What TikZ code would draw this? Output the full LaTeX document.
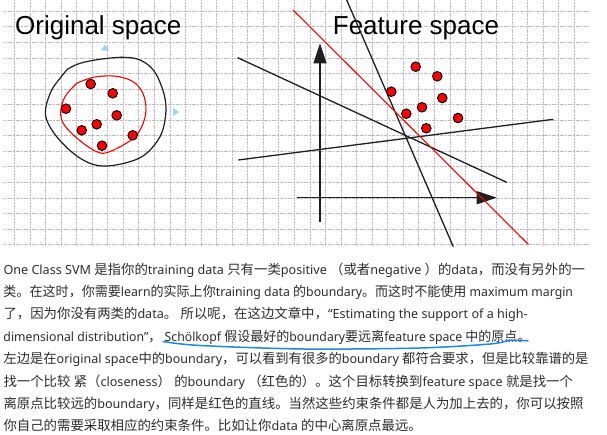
\documentclass[tikz,border=0pt]{standalone}
\usepackage{fontspec}
\setmainfont{Noto Sans}
\newfontfamily\latfam{Noto Sans}
\newfontfamily\cjkfam{Noto Sans CJK SC}
\newfontfamily\arialfont{Liberation Sans}
\newcommand\latfont{\latfam\fontsize{12.6}{16}\selectfont}
\newcommand\cjkfont{\cjkfam\fontsize{13.4}{16}\selectfont}
\usetikzlibrary{arrows.meta}
\newXeTeXintercharclass\cjkcls
\newcount\cjkcnt
\cjkcnt="3000 \loop \XeTeXcharclass\cjkcnt=\cjkcls \advance\cjkcnt by 1 \ifnum\cjkcnt<"3040 \repeat
\cjkcnt="4E00 \loop \XeTeXcharclass\cjkcnt=\cjkcls \advance\cjkcnt by 1 \ifnum\cjkcnt<"A000 \repeat
\cjkcnt="FF00 \loop \XeTeXcharclass\cjkcnt=\cjkcls \advance\cjkcnt by 1 \ifnum\cjkcnt<"FFF0 \repeat
\XeTeXinterchartoks 0 \cjkcls = {\cjkfont}
\XeTeXinterchartoks 4095 \cjkcls = {\cjkfont}
\XeTeXinterchartoks \cjkcls 0 = {\latfont}
\XeTeXinterchartoks \cjkcls 4095 = {\latfont}
\XeTeXinterchartokenstate=1
\definecolor{handleblue}{RGB}{165,208,242}
\definecolor{ulblue}{RGB}{30,136,229}
\definecolor{txtgray}{RGB}{45,45,45}
\begin{document}
\begin{tikzpicture}[x=1pt,y=-1pt,
  gridline/.style={black!25, line width=0.7pt, dash pattern=on 1.2pt off 0.4pt},
  bk/.style={black!88, line width=1.3pt},
  rd/.style={red, line width=1.1pt},
  dot/.style={circle, draw=black, fill=red, line width=0.9pt, minimum size=9.6pt, inner sep=0pt},
  title/.style={anchor=base west, inner sep=0pt, font=\arialfont\fontsize{26}{30}\selectfont},
  txtline/.style={anchor=base west, inner sep=0pt, text=txtgray, font=\latfont},
  squeeze/.style={xscale=#1, transform shape},
  arr/.style={-{Triangle[length=20pt,width=13pt]}}
]
\useasboundingbox (0,0) rectangle (607,434);
\fill[white] (0,0) rectangle (607,434);
% grid
\foreach \k in {0,...,15} \draw[gridline] (3,{11.2+15.56*\k}) -- (590,{11.2+15.56*\k});
\foreach \k in {0,...,36} \draw[gridline] ({14.3+15.556*\k},0) -- ({14.3+15.556*\k},246);
% titles
\node[title] (t1) at (15,34) {Original space};
\node[title] (t2) at (332.7,34) {Feature space};
% handles
\fill[handleblue] (101,50.5) -- (109,50.5) -- (105,44.5) -- cycle;
\fill[handleblue] (173,108) -- (173,116) -- (179,112) -- cycle;
% original space curves
\draw[bk, line width=1.2pt] plot[smooth, tension=0.6] coordinates {(67.3,69.3) (80,63.3) (100,59.3) (123.3,57.3) (140,60) (153.3,70) (161.7,86.7) (165.7,103.3) (165,120) (160,136.7) (146.7,153.3) (130,161.7) (106.7,166) (90,163.3) (73.3,153.3) (56.7,136.7) (46.7,120) (46,106.7) (51.7,90) (60,78.3) (67.3,69.3)};
\draw[rd] plot[smooth, tension=0.6] coordinates {(76.7,83.3) (93.3,77.3) (113.3,76) (130,80) (140,88.3) (145,100) (145.7,113.3) (141.7,126.7) (135,136.7) (123.3,145) (106.7,152.7) (96.7,151.7) (83.3,143.3) (71.7,133.3) (63.3,123.3) (60.7,111.7) (65,96.7) (76.7,83.3)};
\node[dot] (o1) at (90.7,84) {};
\node[dot] (o2) at (112.7,93.3) {};
\node[dot] (o3) at (66,108.7) {};
\node[dot] (o4) at (116.7,115.3) {};
\node[dot] (o5) at (96.7,124.3) {};
\node[dot] (o6) at (81.7,130.3) {};
\node[dot] (o7) at (132.7,135.3) {};
\node[dot] (o8) at (102,145.7) {};
% feature space
\coordinate (vs) at (320,221.7);
\coordinate (ve) at (320,43.3);
\coordinate (hs) at (296.7,197.7);
\coordinate (he) at (496.7,197.7);
\draw[bk, arr] (vs) -- (ve);
\draw[bk, arr] (hs) -- (he);
\draw[bk] (346.7,0) -- (453.3,246.7);
\draw[bk] (237.7,57.7) -- (506.7,182.3);
\draw[bk] (238.3,160) -- (553.3,119.3);
\draw[rd] (293,10) -- (528.3,244.3);
\node[dot] (f1) at (415.7,66.7) {};
\node[dot] (f2) at (437.3,76.3) {};
\node[dot] (f3) at (391.3,91.7) {};
\node[dot] (f4) at (442.3,98) {};
\node[dot] (f5) at (422,107.3) {};
\node[dot] (f6) at (406.3,113.7) {};
\node[dot] (f7) at (458,118) {};
\node[dot] (f8) at (426.3,128.3) {};
% text
\node[txtline] (l1) at (3.3,274) {One Class SVM 是指你的training data 只有一类positive （或者negative ）的data，而没有另外的一};
\node[txtline, squeeze=0.974] (l2) at (3.3,296.4) {类。在这时，你需要learn的实际上你training data 的boundary。而这时不能使用 maximum margin};
\node[txtline] (l3) at (3.3,318.8) {了，因为你没有两类的data。 所以呢，在这边文章中，“Estimating the support of a high-};
\node[txtline, squeeze=0.972] (l4) at (3.3,341.2) {dimensional distribution”， Schölkopf 假设最好的boundary要远离feature space 中的原点。};
\node[txtline, squeeze=0.993] (l5) at (3.3,363.6) {左边是在original space中的boundary，可以看到有很多的boundary 都符合要求，但是比较靠谱的是};
\node[txtline] (l6) at (3.3,386) {找一个比较 紧（closeness） 的boundary （红色的）。这个目标转换到feature space 就是找一个};
\node[txtline] (l7) at (3.3,408.4) {离原点比较远的boundary，同样是红色的直线。当然这些约束条件都是人为加上去的，你可以按照};
\node[txtline] (l8) at (3.3,430.8) {你自己的需要采取相应的约束条件。比如让你data 的中心离原点最远。};
% underline
\draw[ulblue, line width=1.5pt, line cap=round] plot[smooth] coordinates {(163,341.5) (200,345.5) (304,349) (420,348) (490,344) (510,340.5) (528,340.8)};
\end{tikzpicture}
\end{document}
